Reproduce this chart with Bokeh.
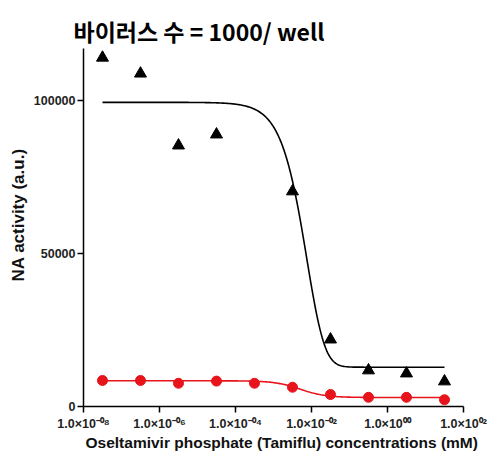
import numpy as np
from bokeh.plotting import figure
from bokeh.models import Range1d, FixedTicker, Title, ColumnDataSource
from bokeh.embed import file_html
from bokeh.resources import INLINE

# ---- data ----
conc_mM = [3.16e-8, 3.16e-7, 3.16e-6, 3.16e-5, 3.16e-4, 3.16e-3, 3.16e-2, 3.16e-1, 3.16e0, 3.16e1]
na_virus = [114000, 108800, 85300, 88900, np.nan, 70300, 21900, 11800, 10800, 8200]
na_blank = [8500, 8500, 7600, 8300, 7600, 6300, 3900, 3000, 3000, 2200]

# fitted curve parameters
fit_virus = dict(top=99400, bottom=12850, log_ec=-1.60, hill=1.15, asym=4.0)
fit_blank = dict(top=8400, bottom=2950, log_ec=-2.30, hill=1.3, asym=1.0)

x_ticks = [1e-8, 1e-6, 1e-4, 1e-2, 1e0, 1e2]
x_tick_labels = ["1.0×10⁻⁰⁸", "1.0×10⁻⁰⁶", "1.0×10⁻⁰⁴", "1.0×10⁻⁰²", "1.0×10⁰⁰", "1.0×10⁰²"]
y_ticks = [0, 50000, 100000]
y_tick_labels = ["0", "50000", "100000"]

title_text = "바이러스 수 = 1000/ well"
x_label = "Oseltamivir phosphate (Tamiflu) concentrations (mM)"
y_label = "NA activity (a.u.)"


def logistic(logx, top, bottom, log_ec, hill, asym):
    return bottom + (top - bottom) / (1 + 10 ** (hill * (logx - log_ec))) ** asym


logx = np.linspace(np.log10(conc_mM[0]), np.log10(conc_mM[-1]), 300)
curve_x = 10 ** logx

p = figure(
    width=494, height=452,
    x_axis_type="log",
    x_range=Range1d(1e-8, 1e2), y_range=Range1d(0, 117000),
    output_backend="svg", toolbar_location=None,
    min_border_left=83, min_border_right=31, min_border_top=48, min_border_bottom=46,
)
p.background_fill_color = "white"
p.border_fill_color = "white"
p.outline_line_color = None
p.xgrid.visible = False
p.ygrid.visible = False

t = Title(text=title_text, align="left", offset=-10, vertical_align="middle",
          text_font="Noto Sans CJK KR", text_font_style="bold",
          text_font_size="23px", text_color="black", standoff=0)
p.add_layout(t, "above")

# fit lines
p.line(curve_x, logistic(logx, **fit_virus), line_color="black", line_width=1.6)
p.line(curve_x, logistic(logx, **fit_blank), line_color="#e8141b", line_width=1.6)

# data points
src_v = ColumnDataSource(dict(x=conc_mM, y=na_virus))
p.scatter("x", "y", source=src_v, marker="triangle", size=12,
          fill_color="black", line_color="black")
src_b = ColumnDataSource(dict(x=conc_mM, y=na_blank))
p.scatter("x", "y", source=src_b, marker="circle", size=10,
          fill_color="#e8141b", line_color="#e8141b")

for ax in (p.xaxis[0], p.yaxis[0]):
    ax.axis_line_width = 1.5
    ax.axis_line_color = "black"
    ax.major_tick_line_width = 1.5
    ax.major_tick_line_color = "black"
    ax.major_tick_out = 6
    ax.major_tick_in = 0
    ax.minor_tick_line_color = None
    ax.major_label_text_font = "Liberation Sans"
    ax.major_label_text_font_style = "bold"
    ax.major_label_text_font_size = "12.5px"
    ax.major_label_text_color = "#222222"

p.xaxis.ticker = FixedTicker(ticks=x_ticks, minor_ticks=[])
p.xaxis.major_label_overrides = {v: s for v, s in zip(x_ticks, x_tick_labels)}
p.xaxis.major_label_standoff = 4

p.yaxis.ticker = FixedTicker(ticks=y_ticks, minor_ticks=[])
p.yaxis.major_label_overrides = {v: s for v, s in zip(y_ticks, y_tick_labels)}
p.yaxis.major_label_standoff = 2

# axis titles (left-anchored so their start position is exact)
xt = Title(text=x_label, align="left", offset=2, vertical_align="top", standoff=0,
           text_font="Liberation Sans", text_font_style="bold", text_font_size="15.5px",
           text_color="#111111")
p.add_layout(xt, "below")
yt = Title(text=y_label, align="left", offset=125, vertical_align="bottom", standoff=5,
           text_font="Liberation Sans", text_font_style="bold", text_font_size="17px",
           text_color="#111111")
p.add_layout(yt, "left")

open("out.html", "w").write(file_html(p, INLINE))
